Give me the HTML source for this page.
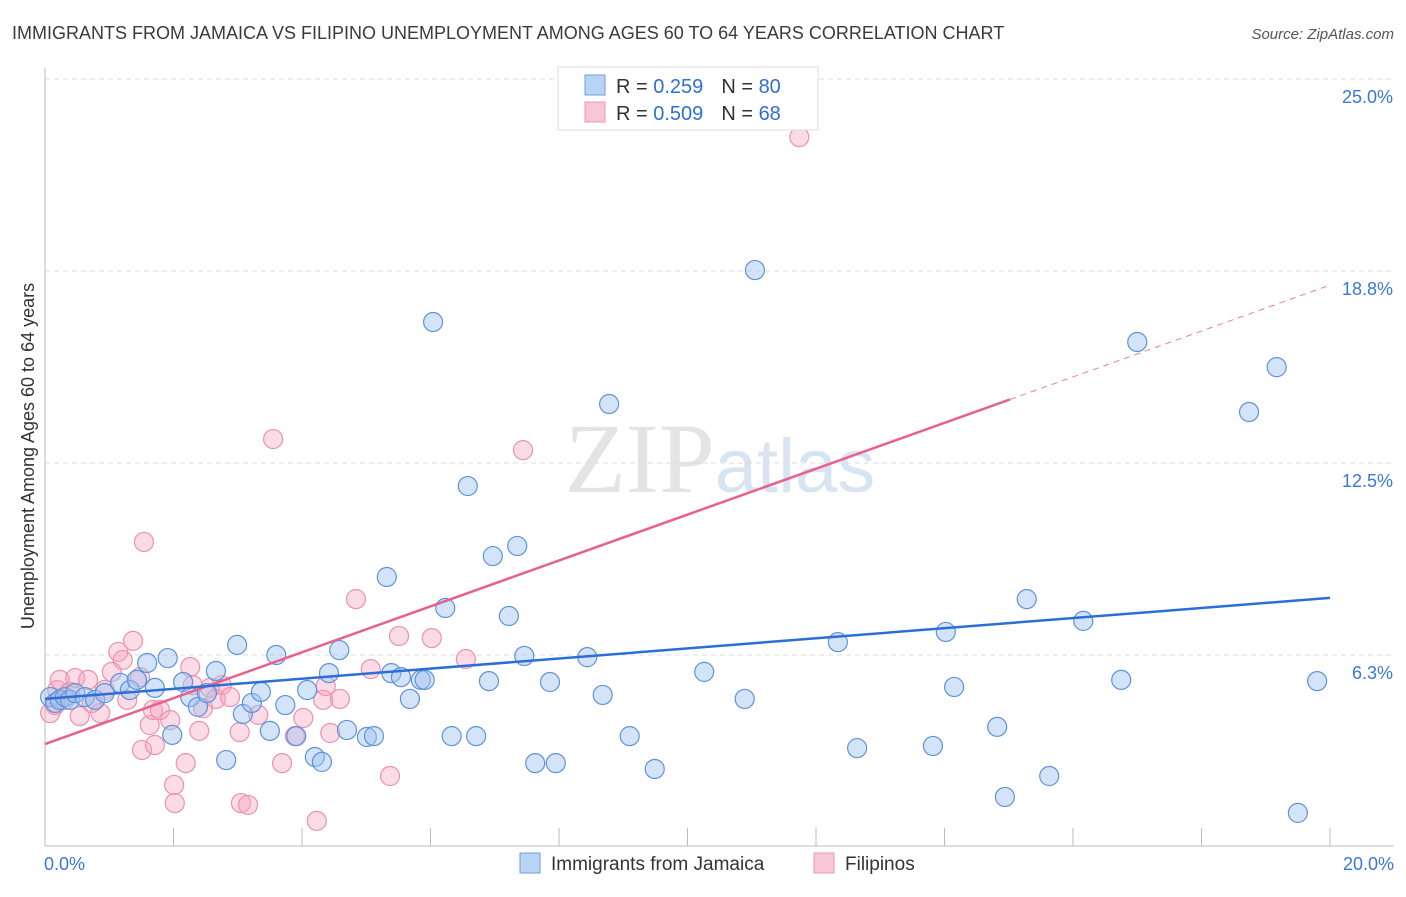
<!DOCTYPE html>
<html><head><meta charset="utf-8">
<style>
body{margin:0;background:#fff;font-family:"Liberation Sans",sans-serif;}
svg text{font-family:"Liberation Sans",sans-serif;}
</style></head>
<body>
<svg id="chart" width="1406" height="892" xmlns="http://www.w3.org/2000/svg">
<text x="12" y="39" font-size="18" fill="#3a3a3a">IMMIGRANTS FROM JAMAICA VS FILIPINO UNEMPLOYMENT AMONG AGES 60 TO 64 YEARS CORRELATION CHART</text>
<text x="1394" y="39" font-size="15" fill="#555" font-style="italic" text-anchor="end">Source: ZipAtlas.com</text>
<text x="720" y="492" font-size="100" fill="#e4e4e4" text-anchor="middle" font-family="Liberation Serif"><tspan font-family="Liberation Serif">ZIP</tspan><tspan font-size="76" fill="#d8e4f2" font-family="Liberation Sans">atlas</tspan></text>
<g id="grid"></g>
<g id="axes"></g>
<g id="pink"></g>
<g id="blue"></g>
<g id="trends"></g>
<g>
<rect x="558" y="67" width="260" height="63" fill="#fff" stroke="#ddd"/>
<rect x="585" y="75" width="20" height="20" fill="#b9d3f5" stroke="#6d9ee0"/>
<rect x="585" y="102" width="20" height="20" fill="#f9c6d6" stroke="#eb9ab4"/>
<text x="616" y="93" font-size="20" fill="#333">R = <tspan fill="#2f6fd4"> 0.259</tspan><tspan dx="18">N = </tspan><tspan fill="#2f6fd4">80</tspan></text>
<text x="616" y="120" font-size="20" fill="#333">R = <tspan fill="#2f6fd4">0.509</tspan><tspan dx="18">N = </tspan><tspan fill="#2f6fd4"> 68</tspan></text>
</g>
<g>
<rect x="520" y="853" width="20" height="20" fill="#b9d3f5" stroke="#6d9ee0"/>
<text x="551" y="870" font-size="19" fill="#333">Immigrants from Jamaica</text>
<rect x="814" y="853" width="20" height="20" fill="#f9c6d6" stroke="#eb9ab4"/>
<text x="845" y="870" font-size="19" fill="#333">Filipinos</text>
</g>
<text transform="translate(34,456) rotate(-90)" font-size="18" fill="#333" text-anchor="middle">Unemployment Among Ages 60 to 64 years</text>
</svg>
<script>
const yTicks=[25,18.75,12.5,6.25];
const yTickLabels=["25.0%","18.8%","12.5%","6.3%"];
const xTicks=[0,2,4,6,8,10,12,14,16,18,20];
const xEndLabels=["0.0%","20.0%"];
const jamaicaX=[0.08,0.16,0.23,0.31,0.39,0.47,0.62,0.78,0.93,1.17,1.32,1.43,1.59,1.71,1.91,1.98,2.15,2.26,2.38,2.52,2.66,2.82,2.99,3.08,3.22,3.36,3.50,3.60,3.74,3.91,4.08,4.20,4.31,4.42,4.58,4.70,5.01,5.12,5.32,5.39,5.54,5.68,5.85,5.91,6.04,6.23,6.33,6.58,6.71,6.91,6.97,7.22,7.35,7.46,7.63,7.86,7.95,8.44,8.68,8.78,9.10,9.49,10.26,10.89,11.05,12.34,12.64,13.82,14.02,14.15,14.82,14.94,15.28,15.63,16.16,16.75,17.00,18.74,19.17,19.50,19.80];
const jamaicaY=[4.88,4.69,4.79,4.88,4.79,5.01,4.88,4.79,5.01,5.34,5.11,5.44,5.99,5.18,6.15,3.65,5.37,4.88,4.56,5.01,5.73,2.83,6.58,4.33,4.69,5.05,3.78,6.25,4.62,3.61,5.11,2.93,2.77,5.66,6.41,3.81,3.58,3.61,8.79,5.66,5.53,4.82,5.44,5.44,17.09,7.78,3.61,11.75,3.61,5.40,9.47,7.52,9.80,6.22,2.73,5.37,2.73,6.18,4.95,14.42,3.61,2.54,5.70,4.82,18.78,6.67,3.22,3.29,7.00,5.21,3.91,1.63,8.07,2.31,7.36,5.44,16.44,14.16,15.62,1.11,5.40];
const filipinoX=[0.08,0.16,0.19,0.23,0.31,0.39,0.47,0.54,0.67,0.73,0.86,0.93,1.04,1.14,1.21,1.28,1.37,1.48,1.54,1.51,1.63,1.68,1.71,1.79,1.95,2.01,2.02,2.19,2.26,2.30,2.40,2.46,2.57,2.66,2.75,2.88,3.03,3.05,3.16,3.32,3.55,3.69,3.89,4.02,4.23,4.33,4.37,4.44,4.59,4.84,5.07,5.37,5.51,6.02,6.55,7.44,11.74];
const filipinoY=[4.36,4.62,5.11,5.44,4.79,5.05,5.50,4.26,5.44,4.69,4.36,5.11,5.70,6.35,6.09,4.79,6.71,5.53,9.93,3.16,3.97,4.46,3.32,4.46,4.13,2.02,1.43,2.73,5.86,5.27,3.78,4.52,5.18,4.82,5.27,4.88,3.74,1.43,1.37,4.30,13.28,2.73,3.61,4.20,0.85,4.79,5.24,3.71,4.82,8.07,5.79,2.31,6.87,6.80,6.12,12.92,23.11];
const jamaicaTrend=[4.82,8.11];
const filipinoTrend=[3.35,18.29];
const filipinoSolidEnd=15.02;

const NS="http://www.w3.org/2000/svg";
const X0=45,X1=1330,Y25=79,PXPER=30.72;
function xs(v){return X0+(v/20)*(X1-X0);}
function ys(v){return Y25+(25-v)*PXPER;}
function mk(tag,attrs,parent){const e=document.createElementNS(NS,tag);for(const k in attrs)e.setAttribute(k,attrs[k]);parent.appendChild(e);return e;}
const grid=document.getElementById('grid'),axes=document.getElementById('axes');
yTicks.forEach((t,i)=>{
  const l=mk('line',{x1:X0,x2:1394,y1:ys(t),y2:ys(t),stroke:'#ddd','stroke-dasharray':'5,4'},grid);
  
  
  const tx=mk('text',{x:1393,y:ys(t)+24,'font-size':18,fill:'#3a78d4','text-anchor':'end'},axes);
  tx.textContent=yTickLabels[i];
  
  
});
const ya=mk('line',{x1:X0,x2:X0,y1:68,y2:846,stroke:'#bbb'},axes);


const xa=mk('line',{x1:X0,x2:1394,y1:846,y2:846,stroke:'#bbb'},axes);


xTicks.forEach(t=>{
  const l=mk('line',{x1:xs(t),x2:xs(t),y1:828,y2:846,stroke:'#bbb'},axes);
  
  
});
const xl0=mk('text',{x:44,y:870,'font-size':18,fill:'#3a78d4'},axes);xl0.textContent=xEndLabels[0];


const xl1=mk('text',{x:1394,y:870,'font-size':18,fill:'#3a78d4','text-anchor':'end'},axes);xl1.textContent=xEndLabels[1];


const pg=document.getElementById('pink'),bg=document.getElementById('blue');
filipinoX.forEach((v,i)=>{
  const c=mk('circle',{cx:xs(v),cy:ys(filipinoY[i]),r:9.5,fill:'rgba(245,165,190,0.4)',stroke:'#eb92b0','stroke-width':1.2},pg);
  
  
});
jamaicaX.forEach((v,i)=>{
  const c=mk('circle',{cx:xs(v),cy:ys(jamaicaY[i]),r:9.5,fill:'rgba(160,196,240,0.45)',stroke:'#5e92db','stroke-width':1.2},bg);
  
  
});
const tg=document.getElementById('trends');
const pyAt=x=>filipinoTrend[0]+(filipinoTrend[1]-filipinoTrend[0])*x/20;
const pd=mk('line',{x1:xs(filipinoSolidEnd),y1:ys(pyAt(filipinoSolidEnd)),x2:xs(20),y2:ys(filipinoTrend[1]),stroke:'#e87ca0','stroke-width':1,'stroke-dasharray':'6,5'},tg);


const ps=mk('line',{x1:xs(0),y1:ys(filipinoTrend[0]),x2:xs(filipinoSolidEnd),y2:ys(pyAt(filipinoSolidEnd)),stroke:'#e8608e','stroke-width':2.5},tg);


const bl=mk('line',{x1:xs(0),y1:ys(jamaicaTrend[0]),x2:xs(20),y2:ys(jamaicaTrend[1]),stroke:'#2b6fd6','stroke-width':2.5},tg);


</script>
</body></html>
